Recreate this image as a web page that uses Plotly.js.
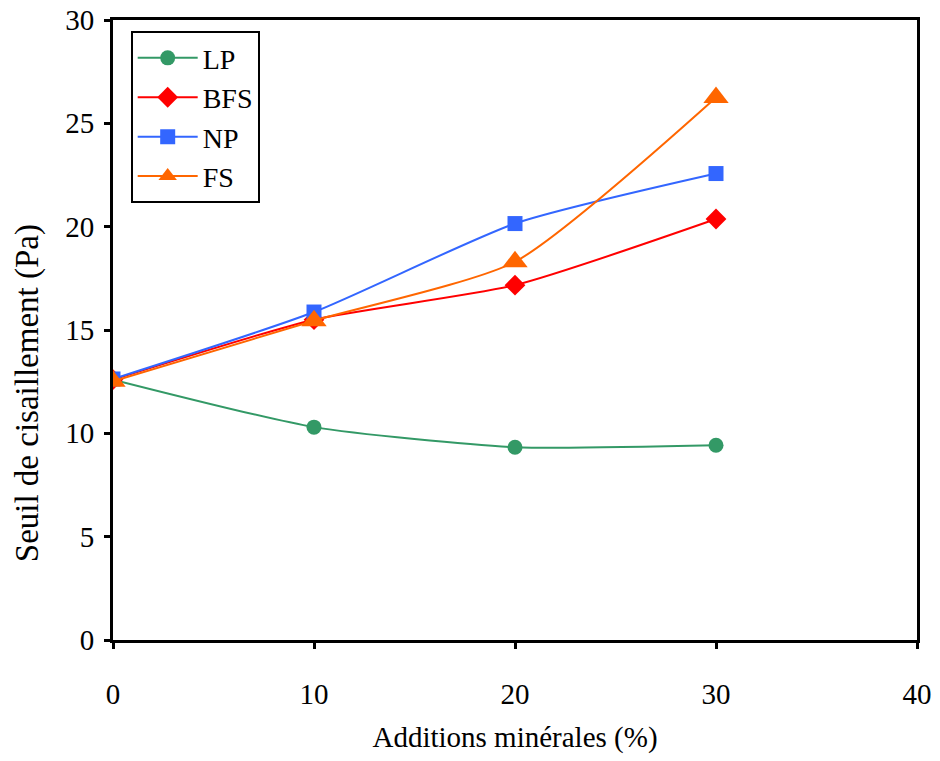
<!DOCTYPE html>
<html>
<head>
<meta charset="utf-8">
<script src="https://cdn.plot.ly/plotly-3.0.1.min.js"></script>
<style>html,body{margin:0;padding:0;background:#fff;}#chart{width:940px;height:761px;}</style>
</head>
<body>
<div id="chart"></div>
<script>
const additions = [0, 10, 20, 30];
const lp = [12.6, 10.3, 9.33, 9.42];
const bfs = [12.6, 15.5, 17.17, 20.37];
const np = [12.63, 15.87, 20.15, 22.57];
const fs = [12.52, 15.45, 18.3, 26.25];
const seriesNames = ['LP', 'BFS', 'NP', 'FS'];
const xTicks = [0, 10, 20, 30, 40];
const yTicks = [0, 5, 10, 15, 20, 25, 30];
const xTitle = 'Additions minérales (%)';
const yTitle = 'Seuil de cisaillement (Pa)';

const colors = ['#339966', '#ff0000', '#3366ff', '#ff6600'];
const symbols = ['circle', 'diamond', 'square', 'triangle-up'];
const sizes = [15, 16, 15, 22];
const values = [lp, bfs, np, fs];

const traces = values.map((v, i) => ({
  x: additions, y: v, name: seriesNames[i], type: 'scatter', mode: 'lines+markers',
  line: {color: colors[i], width: 2, shape: 'spline', smoothing: 0.6},
  marker: {color: colors[i], symbol: symbols[i], size: sizes[i]}
}));

const fam = 'Liberation Serif, Times New Roman, serif';
const layout = {
  width: 940, height: 761,
  margin: {l: 113, r: 23, t: 20, b: 121},
  paper_bgcolor: '#fff', plot_bgcolor: '#fff',
  font: {family: fam, color: '#000', size: 29},
  showlegend: true,
  legend: {x: 0.022, y: 0.982, xanchor: 'left', yanchor: 'top', bgcolor: '#fff',
           bordercolor: '#000', borderwidth: 2, font: {family: fam, size: 28, color: '#000'},
           itemwidth: 60, tracegroupgap: 0},
  xaxis: {range: [0, 40], tickvals: xTicks, ticktext: xTicks.map(String), showgrid: false, zeroline: false,
          showline: true, linecolor: '#000', linewidth: 3, mirror: true,
          ticks: 'outside', ticklen: 6, tickwidth: 3, tickcolor: '#000', ticklabelstandoff: 20,
          tickfont: {family: fam, size: 29}, title: {text: xTitle, font: {family: fam, size: 29}, standoff: 18}},
  yaxis: {range: [0, 30], tickvals: yTicks, ticktext: yTicks.map(String), showgrid: false, zeroline: false,
          showline: true, linecolor: '#000', linewidth: 3, mirror: true,
          ticks: 'outside', ticklen: 6, tickwidth: 3, tickcolor: '#000', ticklabelstandoff: 4,
          tickfont: {family: fam, size: 29}},
  annotations: [{text: yTitle, xref: 'paper', yref: 'paper', x: -0.107, y: 0.398,
                 xanchor: 'center', yanchor: 'middle', textangle: -90, showarrow: false,
                 font: {family: fam, size: 33, color: '#000'}}]
};
Plotly.newPlot('chart', traces, layout, {displayModeBar: false, staticPlot: true});
</script>
</body>
</html>
